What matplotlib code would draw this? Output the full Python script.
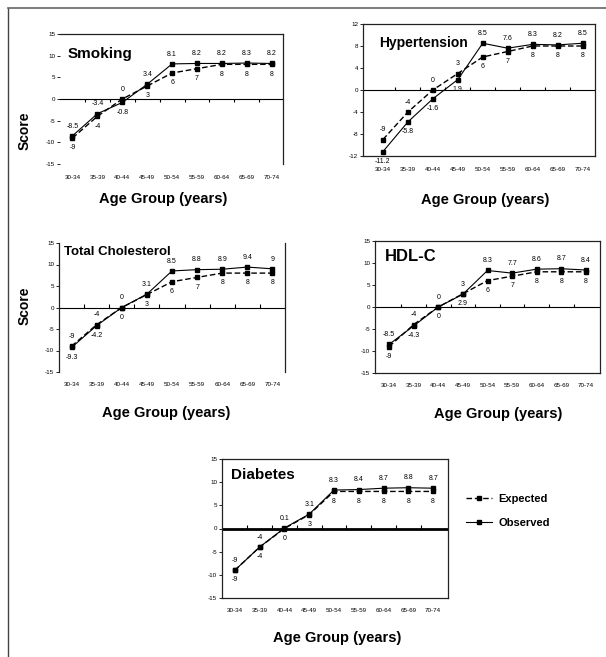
import matplotlib

matplotlib.use("Agg")

import numpy as np
import matplotlib.pyplot as plt
from matplotlib import font_manager
from matplotlib.lines import Line2D

# ----------------------------- data ---------------------------------- #
age_groups = ["30-34", "35-39", "40-44", "45-49", "50-54",
              "55-59", "60-64", "65-69", "70-74"]

smoking_obs = [-8.5, -3.4, -0.8, 3.4, 8.1, 8.2, 8.2, 8.3, 8.2]
smoking_exp = [-9, -4, 0, 3, 6, 7, 8, 8, 8]

hypert_obs = [-11.2, -5.8, -1.6, 1.9, 8.5, 7.6, 8.3, 8.2, 8.5]
hypert_exp = [-9, -4, 0, 3, 6, 7, 8, 8, 8]

chol_obs = [-9.3, -4.2, 0, 3.1, 8.5, 8.8, 8.9, 9.4, 9]
chol_exp = [-9, -4, 0, 3, 6, 7, 8, 8, 8]

hdl_obs = [-8.5, -4.3, 0, 2.9, 8.3, 7.7, 8.6, 8.7, 8.4]
hdl_exp = [-9, -4, 0, 3, 6, 7, 8, 8, 8]

diab_obs = [-9, -4, 0.1, 3.1, 8.3, 8.4, 8.7, 8.8, 8.7]
diab_exp = [-9, -4, 0, 3, 8, 8, 8, 8, 8]

score_ticks_15 = [-15, -10, -5, 0, 5, 10, 15]
score_ticks_12 = [-12, -8, -4, 0, 4, 8, 12]

# ----------------------------- fonts --------------------------------- #
_names = {f.name for f in font_manager.fontManager.ttflist}
NARROW = "Liberation Sans Narrow" if "Liberation Sans Narrow" in _names else "Liberation Sans"
plt.rcParams["font.family"] = ["Liberation Sans", "DejaVu Sans"]

W, H = 606, 657


def px_rect(left, top, right, bottom):
    """Pixel box -> figure fraction rect."""
    return [left / W, 1 - bottom / H, (right - left) / W, (bottom - top) / H]


def draw_panel(fig, rect, title, obs, exp, yticks, xlim, spines,
               title_xy, title_size=10, tick_dir=1, zero_lw=0.8, xpad=7):
    ax = fig.add_axes(rect)
    x = np.arange(len(age_groups))
    ylim = (yticks[0], yticks[-1])

    ax.plot(x, exp, color="black", lw=1.0, ls=(0, (4, 2)), marker="s", ms=2.3)
    ax.plot(x, obs, color="black", lw=0.8, marker="s", ms=2.3)

    # category axis crossing at zero, tick marks between categories
    ax.axhline(0, color="black", lw=zero_lw, zorder=1)
    tick = 0.025 * (ylim[1] - ylim[0]) * tick_dir
    ax.vlines(x[:-1] + 0.5, 0, tick, color="black", lw=0.8)

    for xi, o, e in zip(x, obs, exp):
        hi, lo = (o, e) if o >= e else (e, o)
        ax.annotate(f"{hi:g}", (xi, hi), xytext=(0, 4.5), textcoords="offset points",
                    ha="center", va="bottom", fontsize=5, family=NARROW)
        ax.annotate(f"{lo:g}", (xi, lo), xytext=(0, -4.5), textcoords="offset points",
                    ha="center", va="top", fontsize=5, family=NARROW)

    ax.set_xlim(*xlim)
    ax.set_ylim(*ylim)
    ax.set_yticks(yticks)
    ax.set_yticklabels([str(t) for t in yticks], fontsize=4.5, family=NARROW)
    ax.set_xticks(x)
    ax.set_xticklabels(age_groups, fontsize=4.5, family=NARROW)
    ax.tick_params(axis="x", length=0, pad=xpad)
    ax.tick_params(axis="y", length=2, width=0.6, pad=1.5)

    for side in ("left", "right", "top", "bottom"):
        ax.spines[side].set_visible(side in spines)
        ax.spines[side].set_linewidth(0.9)
        ax.spines[side].set_color("#222222")

    ax.text(title_xy[0], title_xy[1], title, transform=ax.transAxes,
            fontsize=title_size, fontweight="bold", ha="left", va="center")
    return ax


fig = plt.figure(figsize=(W / 100, H / 100), dpi=100)

# page frame (left + top only)
fig.add_artist(Line2D([8 / W, 8 / W], [0, 1 - 8 / H], transform=fig.transFigure,
                      color="#444444", lw=1.0))
fig.add_artist(Line2D([8 / W, 1], [1 - 8 / H, 1 - 8 / H], transform=fig.transFigure,
                      color="#666666", lw=1.2))

panels = [
    dict(rect=px_rect(60, 34, 283, 164), title="Smoking", obs=smoking_obs, exp=smoking_exp,
         yticks=score_ticks_15, xlim=(-0.5, 8.45), spines=("top", "right"),
         title_xy=(0.036, 0.846), title_size=11, tick_dir=-1, xpad=8,
         xlabel_xy=(163, 199), score_xy=(25, 131)),
    dict(rect=px_rect(363, 24, 595, 156), title="Hypertension", obs=hypert_obs, exp=hypert_exp,
         yticks=score_ticks_12, xlim=(-0.8, 8.5), spines=("top", "right", "left", "bottom"),
         title_xy=(0.07, 0.856), xpad=8, xlabel_xy=(485, 200)),
    dict(rect=px_rect(59, 243, 285, 372), title="Total Cholesterol", obs=chol_obs, exp=chol_exp,
         yticks=score_ticks_15, xlim=(-0.5, 8.5), spines=("left", "right"),
         title_xy=(0.02, 0.93), title_size=9.5, xlabel_xy=(166, 413), score_xy=(25, 306)),
    dict(rect=px_rect(375, 241, 600, 373), title="HDL-C", obs=hdl_obs, exp=hdl_exp,
         yticks=score_ticks_15, xlim=(-0.57, 8.57), spines=("top", "right", "left", "bottom"),
         title_xy=(0.045, 0.88), title_size=12, xlabel_xy=(498, 414)),
    dict(rect=px_rect(222, 459, 448, 598), title="Diabetes", obs=diab_obs, exp=diab_exp,
         yticks=score_ticks_15, xlim=(-0.52, 8.6), spines=("top", "right", "left", "bottom"),
         title_xy=(0.04, 0.885), title_size=11, zero_lw=2.0, xlabel_xy=(337, 638)),
]

for p in panels:
    draw_panel(fig, p["rect"], p["title"], p["obs"], p["exp"], p["yticks"], p["xlim"],
               p["spines"], p["title_xy"], title_size=p.get("title_size", 10),
               tick_dir=p.get("tick_dir", 1), zero_lw=p.get("zero_lw", 0.8),
               xpad=p.get("xpad", 7))
    lx, ly = p["xlabel_xy"]
    fig.text(lx / W, 1 - ly / H, "Age Group (years)", fontsize=10.5, fontweight="bold",
             ha="center", va="center")
    if "score_xy" in p:
        sx, sy = p["score_xy"]
        fig.text(sx / W, 1 - sy / H, "Score", fontsize=10, fontweight="bold",
                 rotation=90, ha="center", va="center")

handles = [
    Line2D([], [], color="black", lw=1.0, ls=(0, (4, 2)), marker="s", ms=2.3),
    Line2D([], [], color="black", lw=0.8, marker="s", ms=2.3),
]
fig.legend(handles, ["Expected", "Observed"], loc="center left",
           bbox_to_anchor=(466 / W, 1 - 511 / H), frameon=False,
           prop={"size": 8, "weight": "bold"}, handlelength=2.3,
           handletextpad=0.6, labelspacing=1.3, borderpad=0, borderaxespad=0)

fig.savefig("out.png", dpi=100)
